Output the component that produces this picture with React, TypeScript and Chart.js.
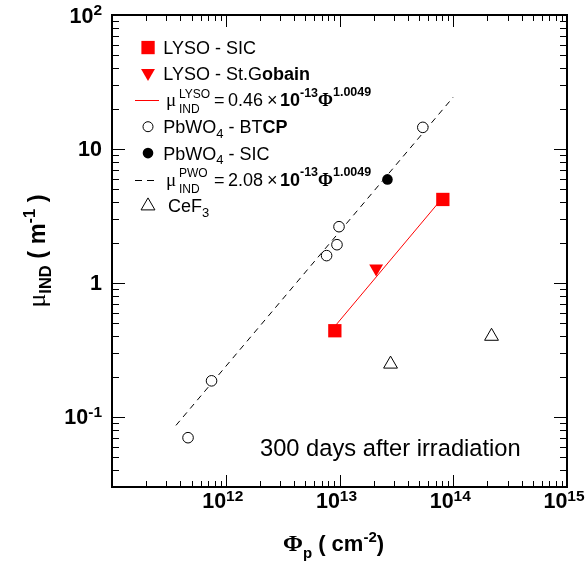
import React, { useEffect, useRef } from "react";
import { Chart, registerables } from "chart.js";
Chart.register(...registerables);

// ---- data ----
const lysoSicX = [9.1e12, 8.1e13];
const lysoSicY = [0.44, 4.2];
const lysoSgX = [2.1e13];
const lysoSgY = [1.28];
const lysoFitX = [9.2e12, 8.3e13];
const lysoFitY = [0.48, 4.45];
const pwoBtcpX = [4.66e11, 7.5e11, 7.7e12, 9.5e12, 9.9e12, 5.4e13];
const pwoBtcpY = [0.07, 0.186, 1.6, 1.93, 2.63, 14.5];
const pwoSicX = [2.64e13];
const pwoSicY = [5.93];
const pwoFitX = [3.65e11, 1.0e14];
const pwoFitY = [0.0865, 24.4];
const cef3X = [2.81e13, 2.17e14];
const cef3Y = [0.248, 0.4];

const xTickValues = [1e12, 1e13, 1e14, 1e15];
const xTickBase = ["10", "10", "10", "10"];
const xTickExp = ["12", "13", "14", "15"];
const yTickValues = [0.1, 1, 10, 100];
const yTickBase = ["10", "1", "10", "10"];
const yTickExp = ["-1", "", "", "2"];

const X_MIN = 1e11, X_MAX = 1e15, Y_MIN = 0.03, Y_MAX = 100;

const SANS = "'Liberation Sans', Arial, sans-serif";
const SERIF = "'Liberation Serif', 'Times New Roman', serif";

const zip = (xs: number[], ys: number[]) => xs.map((x, i) => ({ x, y: ys[i] }));

type Seg = { t: string; f: string; dy?: number; x?: number };
function drawSegs(ctx: CanvasRenderingContext2D, segs: Seg[], x: number, y: number) {
  let cx = x;
  for (const s of segs) {
    if (s.x !== undefined) cx = s.x;
    ctx.font = s.f;
    ctx.fillText(s.t, cx, y + (s.dy || 0));
    cx += ctx.measureText(s.t).width;
  }
  return cx;
}
function segsWidth(ctx: CanvasRenderingContext2D, segs: Seg[]) {
  let w = 0;
  for (const s of segs) {
    ctx.font = s.f;
    w += ctx.measureText(s.t).width;
  }
  return w;
}

const decorPlugin = {
  id: "decor",
  afterDraw(chart: any) {
    const ctx: CanvasRenderingContext2D = chart.ctx;
    const xs = chart.scales.x;
    const ys = chart.scales.y;
    const { left: L, right: R, top: T, bottom: B } = chart.chartArea;
    ctx.save();
    ctx.strokeStyle = "#000";
    ctx.fillStyle = "#000";
    ctx.lineWidth = 1;
    const line = (x1: number, y1: number, x2: number, y2: number) => {
      ctx.beginPath();
      ctx.moveTo(x1, y1);
      ctx.lineTo(x2, y2);
      ctx.stroke();
    };
    // x ticks
    for (let d = 11; d <= 14; d++) {
      for (let k = 1; k <= 9; k++) {
        const v = k * Math.pow(10, d);
        if (v <= X_MIN * 1.0001 || v >= X_MAX * 0.9999) continue;
        const px = Math.round(xs.getPixelForValue(v)) + 0.5;
        const len = k === 1 ? 12 : 6;
        line(px, B, px, B - len);
        line(px, T, px, T + len);
      }
    }
    // y ticks
    for (let d = -2; d <= 1; d++) {
      for (let k = 1; k <= 9; k++) {
        const v = k * Math.pow(10, d);
        if (v <= Y_MIN * 1.0001 || v >= Y_MAX * 0.9999) continue;
        const py = Math.round(ys.getPixelForValue(v)) + 0.5;
        const len = k === 1 ? 13 : 7;
        line(L, py, L + len, py);
        line(R, py, R - len, py);
      }
    }
    // frame
    ctx.lineWidth = 2;
    ctx.strokeRect(L, T, R - L, B - T);

    // x tick labels
    ctx.textBaseline = "alphabetic";
    ctx.textAlign = "left";
    xTickValues.forEach((v, i) => {
      const segs: Seg[] = [
        { t: xTickBase[i], f: `bold 21.5px ${SANS}` },
        { t: xTickExp[i], f: `bold 15.5px ${SANS}`, dy: -7.5 },
      ];
      const w = segsWidth(ctx, segs);
      const px = xs.getPixelForValue(v);
      drawSegs(ctx, segs, px - w / 2 - 3, B + 21);
    });
    // y tick labels
    yTickValues.forEach((v, i) => {
      const segs: Seg[] = [{ t: yTickBase[i], f: `bold 21.5px ${SANS}` }];
      if (yTickExp[i]) segs.push({ t: yTickExp[i], f: `bold 15.5px ${SANS}`, dy: -7.5 });
      const w = segsWidth(ctx, segs);
      const py = ys.getPixelForValue(v);
      drawSegs(ctx, segs, 102 - w, py + 7.5);
    });

    // x title
    drawSegs(
      ctx,
      [
        { t: "Φ", f: `bold 24px ${SERIF}` },
        { t: "p", f: `bold 15px ${SANS}`, dy: 7 },
        { t: " ( cm", f: `bold 22px ${SANS}` },
        { t: "-2", f: `bold 15px ${SANS}`, dy: -9.5 },
        { t: ")", f: `bold 22px ${SANS}` },
      ],
      283,
      551
    );
    // y title (rotated)
    ctx.save();
    ctx.translate(45, (T + B) / 2);
    ctx.rotate(-Math.PI / 2);
    const ySegs: Seg[] = [
      { t: "μ", f: `26px ${SERIF}` },
      { t: "IND", f: `bold 16.5px ${SANS}`, dy: 6 },
      { t: " ( m", f: `bold 23.5px ${SANS}` },
      { t: "-1", f: `bold 16.5px ${SANS}`, dy: -10 },
      { t: " )", f: `bold 23.5px ${SANS}` },
    ];
    drawSegs(ctx, ySegs, -segsWidth(ctx, ySegs) / 2, 0);
    ctx.restore();

    // annotation
    ctx.font = `23.7px ${SANS}`;
    ctx.fillText("300 days after irradiation", 260, 456);

    // legend
    const r = (i: number) => 47.5 + 26.4 * i;
    const mx = 148;
    const tx = 163.3;
    const reg = `18px ${SANS}`;
    const bold = `bold 18px ${SANS}`;
    const small = `12px ${SANS}`;
    const smallB = `bold 12.5px ${SANS}`;
    // row 0
    ctx.fillStyle = "#ff0000";
    ctx.fillRect(mx - 6.6, r(0) - 6.6, 13.3, 13.3);
    ctx.fillStyle = "#000";
    drawSegs(ctx, [{ t: "LYSO - SIC", f: reg }], tx, r(0) + 6.5);
    // row 1
    {
      const cy = r(1) - 1;
      ctx.fillStyle = "#ff0000";
      ctx.beginPath();
      ctx.moveTo(mx - 6.93, cy - 4);
      ctx.lineTo(mx + 6.93, cy - 4);
      ctx.lineTo(mx, cy + 8);
      ctx.closePath();
      ctx.fill();
      ctx.fillStyle = "#000";
      drawSegs(ctx, [{ t: "LYSO - St.G", f: reg }, { t: "obain", f: bold }], tx, r(1) + 6.5);
    }
    // formula rows
    const formula = (row: number, sup: string, coef: string, color: string, dash: number[]) => {
      const cy = r(row);
      ctx.strokeStyle = color;
      ctx.lineWidth = 1;
      ctx.setLineDash(dash);
      line(135, Math.round(cy) + 0.5, 159, Math.round(cy) + 0.5);
      ctx.setLineDash([]);
      ctx.fillStyle = "#000";
      const bl = cy + 6;
      drawSegs(ctx, [{ t: "μ", f: `19px ${SERIF}` }], 166, bl);
      drawSegs(ctx, [{ t: sup, f: small }], 179, bl - 8.5);
      drawSegs(ctx, [{ t: "IND", f: small }], 179, bl + 7);
      drawSegs(
        ctx,
        [
          { t: "=", f: reg, x: 214 },
          { t: coef, f: reg, x: 228 },
          { t: "×", f: reg, x: 267 },
          { t: "10", f: bold, x: 280 },
        ],
        214,
        bl
      );
      drawSegs(
        ctx,
        [
          { t: "-13", f: smallB, dy: -9.5, x: 300 },
          { t: "Φ", f: `bold 18px ${SERIF}` },
          { t: "1.0049", f: smallB, dy: -10 },
        ],
        300,
        bl
      );
      ctx.strokeStyle = "#000";
    };
    formula(2, "LYSO", "0.46", "#ff0000", []);
    // row 3
    ctx.fillStyle = "#fff";
    ctx.beginPath();
    ctx.arc(mx, r(3), 5, 0, Math.PI * 2);
    ctx.fill();
    ctx.stroke();
    ctx.fillStyle = "#000";
    drawSegs(
      ctx,
      [
        { t: "PbWO", f: reg },
        { t: "4", f: `13px ${SANS}`, dy: 4.3 },
        { t: " - BT", f: reg },
        { t: "CP", f: bold },
      ],
      tx,
      r(3) + 6.5
    );
    // row 4
    ctx.beginPath();
    ctx.arc(mx, r(4), 5.3, 0, Math.PI * 2);
    ctx.fill();
    drawSegs(
      ctx,
      [
        { t: "PbWO", f: reg },
        { t: "4", f: `13px ${SANS}`, dy: 4.3 },
        { t: " - SIC", f: reg },
      ],
      tx,
      r(4) + 6.5
    );
    // row 5
    formula(5, "PWO", "2.08", "#000", [7, 5]);
    // row 6
    {
      const cy = r(6);
      ctx.strokeStyle = "#000";
      ctx.lineWidth = 1;
      ctx.beginPath();
      ctx.moveTo(mx, cy - 8);
      ctx.lineTo(mx + 6.93, cy + 4);
      ctx.lineTo(mx - 6.93, cy + 4);
      ctx.closePath();
      ctx.stroke();
      drawSegs(
        ctx,
        [
          { t: "CeF", f: reg },
          { t: "3", f: `13px ${SANS}`, dy: 4.3 },
        ],
        168,
        cy + 6.5
      );
    }
    ctx.restore();
  },
};

export default function App() {
  const ref = useRef<HTMLCanvasElement>(null);
  useEffect(() => {
    const chart = new Chart(ref.current as HTMLCanvasElement, {
      type: "scatter",
      data: {
        datasets: [
          {
            label: "LYSO - SIC",
            data: zip(lysoSicX, lysoSicY),
            pointStyle: "rect",
            pointRadius: 9.4,
            pointBackgroundColor: "#ff0000",
            pointBorderColor: "#ff0000",
            pointBorderWidth: 0,
            order: 0,
          },
          {
            label: "LYSO - St.Gobain",
            data: zip(lysoSgX, lysoSgY),
            pointStyle: "triangle",
            pointRotation: 180,
            pointRadius: 8,
            pointBackgroundColor: "#ff0000",
            pointBorderColor: "#ff0000",
            pointBorderWidth: 0,
            order: 0,
          },
          {
            label: "LYSO fit",
            data: zip(lysoFitX, lysoFitY),
            showLine: true,
            borderColor: "#ff0000",
            borderWidth: 1,
            pointRadius: 0,
            order: 2,
          },
          {
            label: "PbWO4 - BTCP",
            data: zip(pwoBtcpX, pwoBtcpY),
            pointStyle: "circle",
            pointRadius: 5.3,
            pointBackgroundColor: "#ffffff",
            pointBorderColor: "#000",
            pointBorderWidth: 1,
            order: 0,
          },
          {
            label: "PbWO4 - SIC",
            data: zip(pwoSicX, pwoSicY),
            pointStyle: "circle",
            pointRadius: 5.3,
            pointBackgroundColor: "#000",
            pointBorderColor: "#000",
            pointBorderWidth: 0,
            order: 0,
          },
          {
            label: "PWO fit",
            data: zip(pwoFitX, pwoFitY),
            showLine: true,
            borderColor: "#000",
            borderWidth: 1,
            borderDash: [6, 5],
            pointRadius: 0,
            order: 2,
          },
          {
            label: "CeF3",
            data: zip(cef3X, cef3Y),
            pointStyle: "triangle",
            pointRadius: 8,
            pointBackgroundColor: "rgba(0,0,0,0)",
            pointBorderColor: "#000",
            pointBorderWidth: 1,
            order: 0,
          },
        ],
      },
      options: {
        animation: false,
        responsive: true,
        maintainAspectRatio: false,
        layout: { padding: { left: 112, top: 15, right: 20, bottom: 79 } },
        plugins: { legend: { display: false }, tooltip: { enabled: false }, title: { display: false } },
        scales: {
          x: { type: "logarithmic", min: X_MIN, max: X_MAX, display: false },
          y: { type: "logarithmic", min: Y_MIN, max: Y_MAX, display: false },
        },
      },
      plugins: [decorPlugin],
    } as any);
    return () => chart.destroy();
  }, []);
  return (
    <div style={{ position: "absolute", left: 0, top: 0, width: 587, height: 566, background: "#fff" }}>
      <canvas ref={ref} />
    </div>
  );
}
